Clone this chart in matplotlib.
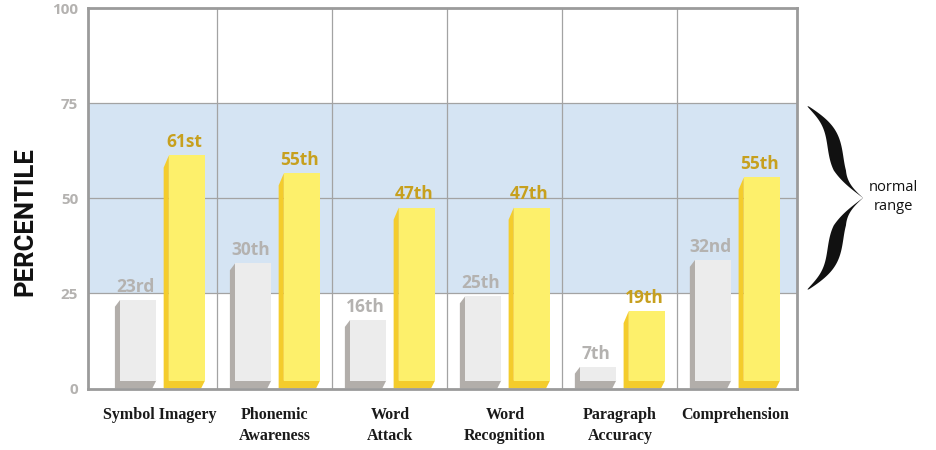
import numpy as np
import matplotlib
matplotlib.use("Agg")
import matplotlib.pyplot as plt
from matplotlib.patches import Polygon
from matplotlib import font_manager as fm

# ---------------- data ----------------
categories = ["Symbol Imagery", "Phonemic\nAwareness", "Word\nAttack",
              "Word\nRecognition", "Paragraph\nAccuracy", "Comprehension"]
gray_values = [23.3, 32.9, 18.0, 24.2, 5.7, 33.8]
yellow_values = [61.3, 56.6, 47.6, 47.6, 20.4, 55.5]
gray_labels = ["23rd", "30th", "16th", "25th", "7th", "32nd"]
yellow_labels = ["61st", "55th", "47th", "47th", "19th", "55th"]
y_ticks = [0, 25, 50, 75, 100]
normal_range = (25, 75)
band_label = "normal\nrange"
y_title = "PERCENTILE"

# ---------------- style ----------------
GRAY_FRONT = "#ececec"
GRAY_SHADE = "#b2aeaa"
YEL_FRONT = "#fdf06b"
YEL_SHADE = "#f4cc2c"
GRAY_TXT = "#b4b2b0"
GOLD_TXT = "#c7a01e"
BAND = "#d5e4f3"
GRID = "#a3a3a3"
SPINE = "#9b9b9b"

fig = plt.figure(figsize=(9.36, 4.5), dpi=100)
ax = fig.add_axes([88 / 936, 61.5 / 450, (797 - 88) / 936, (388.5 - 8.3) / 450])

x = np.arange(len(categories))
ax.set_xlim(-0.626, 5.54)
ax.set_ylim(0, 100)

ax.axhspan(*normal_range, color=BAND, zorder=0, lw=0)
for yv in y_ticks[1:-1]:
    ax.axhline(yv, color=GRID, lw=0.9, zorder=1)
for xv in x[:-1] + 0.5:
    ax.axvline(xv, color=GRID, lw=0.9, zorder=1)

W = 0.36          # bar width (incl. side face)
D = 0.045         # side face depth (data x)
BOT = 2.1         # bottom band height (data y)
SL = 0.035        # bottom band slant


def bar3d(xc, h, front, shade, top_slant):
    x0, x1 = xc - W / 2, xc + W / 2
    shade_poly = Polygon([(x0, 0), (x1 - SL, 0), (x1, BOT), (x0 + D, BOT),
                          (x0 + D, h), (x0, h - top_slant)],
                         closed=True, facecolor=shade, edgecolor="none", zorder=3)
    front_poly = Polygon([(x0 + D, BOT), (x1, BOT), (x1, h), (x0 + D, h)],
                         closed=True, facecolor=front, edgecolor="none", zorder=3)
    ax.add_patch(shade_poly)
    ax.add_patch(front_poly)


off = 0.212
for i in range(len(categories)):
    bar3d(x[i] - off, gray_values[i], GRAY_FRONT, GRAY_SHADE, 1.8)
    bar3d(x[i] + off, yellow_values[i], YEL_FRONT, YEL_SHADE, 3.2)
    ax.annotate(gray_labels[i], (x[i] - off, gray_values[i]), xytext=(0, 3),
                textcoords="offset points", ha="center", va="bottom",
                fontsize=12.5, fontweight="bold", color=GRAY_TXT,
                family="Open Sans", zorder=4)
    ax.annotate(yellow_labels[i], (x[i] + off, yellow_values[i]), xytext=(0, 3),
                textcoords="offset points", ha="center", va="bottom",
                fontsize=12.5, fontweight="bold", color=GOLD_TXT,
                family="Open Sans", zorder=4)

ax.set_yticks(y_ticks)
ax.set_yticklabels([str(t) for t in y_ticks], fontsize=11, fontweight="bold",
                   color=GRAY_TXT, family="Open Sans")
ax.set_xticks(x)
ax.set_xticklabels(categories, fontsize=11.5, fontweight="bold",
                   family="Liberation Serif", color="#1a1a1a",
                   linespacing=1.45)
ax.tick_params(axis="both", length=0)
ax.tick_params(axis="y", pad=7)
ax.tick_params(axis="x", pad=13)

for s in ax.spines.values():
    s.set_color(SPINE)
    s.set_linewidth(2.0)
    s.set_zorder(5)

fig.text(25 / 936, 1 - 222 / 450, y_title, rotation=90, ha="center", va="center",
         fontsize=18.5, family="Roboto", fontweight="bold", color="#111111")

# ---------------- brace (annotation) ----------------
(_, y_top), (_, y_bot) = ax.transData.transform([(0, normal_range[1]), (0, normal_range[0])])
y_top_px = 450 - y_top + 3
y_bot_px = 450 - y_bot - 4
ov = fig.add_axes([0, 0, 1, 1], facecolor="none")
ov.set_xlim(0, 936)
ov.set_ylim(450, 0)
ov.axis("off")

xl, Wb = 808, 55
beta = 8.0
s = np.linspace(0, 1, 240)
sig = lambda t: 1 / (1 + np.exp(-t))
xc = xl + Wb * (sig(beta * s) - 0.5 + sig(beta * (s - 1))) / sig(beta)
ymid = (y_top_px + y_bot_px) / 2
thick = 13 * np.sin(np.pi * s) ** 0.8 + 1.2
thick *= np.where(s > 0.7, 1 - (s - 0.7) / 0.3 * 0.85, 1)


def half(y0, y1):
    yy = y0 + (y1 - y0) * s
    left = np.column_stack([xc - thick / 2, yy])
    right = np.column_stack([xc + thick / 2, yy])
    return np.vstack([left, right[::-1]])


ov.add_patch(Polygon(half(y_top_px, ymid), closed=True, facecolor="#111111", edgecolor="none"))
ov.add_patch(Polygon(half(y_bot_px, ymid), closed=True, facecolor="#111111", edgecolor="none"))
ov.text(893, ymid - 1, band_label, ha="center", va="center", fontsize=10.5,
        family="Open Sans", color="#111111", linespacing=1.3)

fig.savefig("out.png", dpi=100)
